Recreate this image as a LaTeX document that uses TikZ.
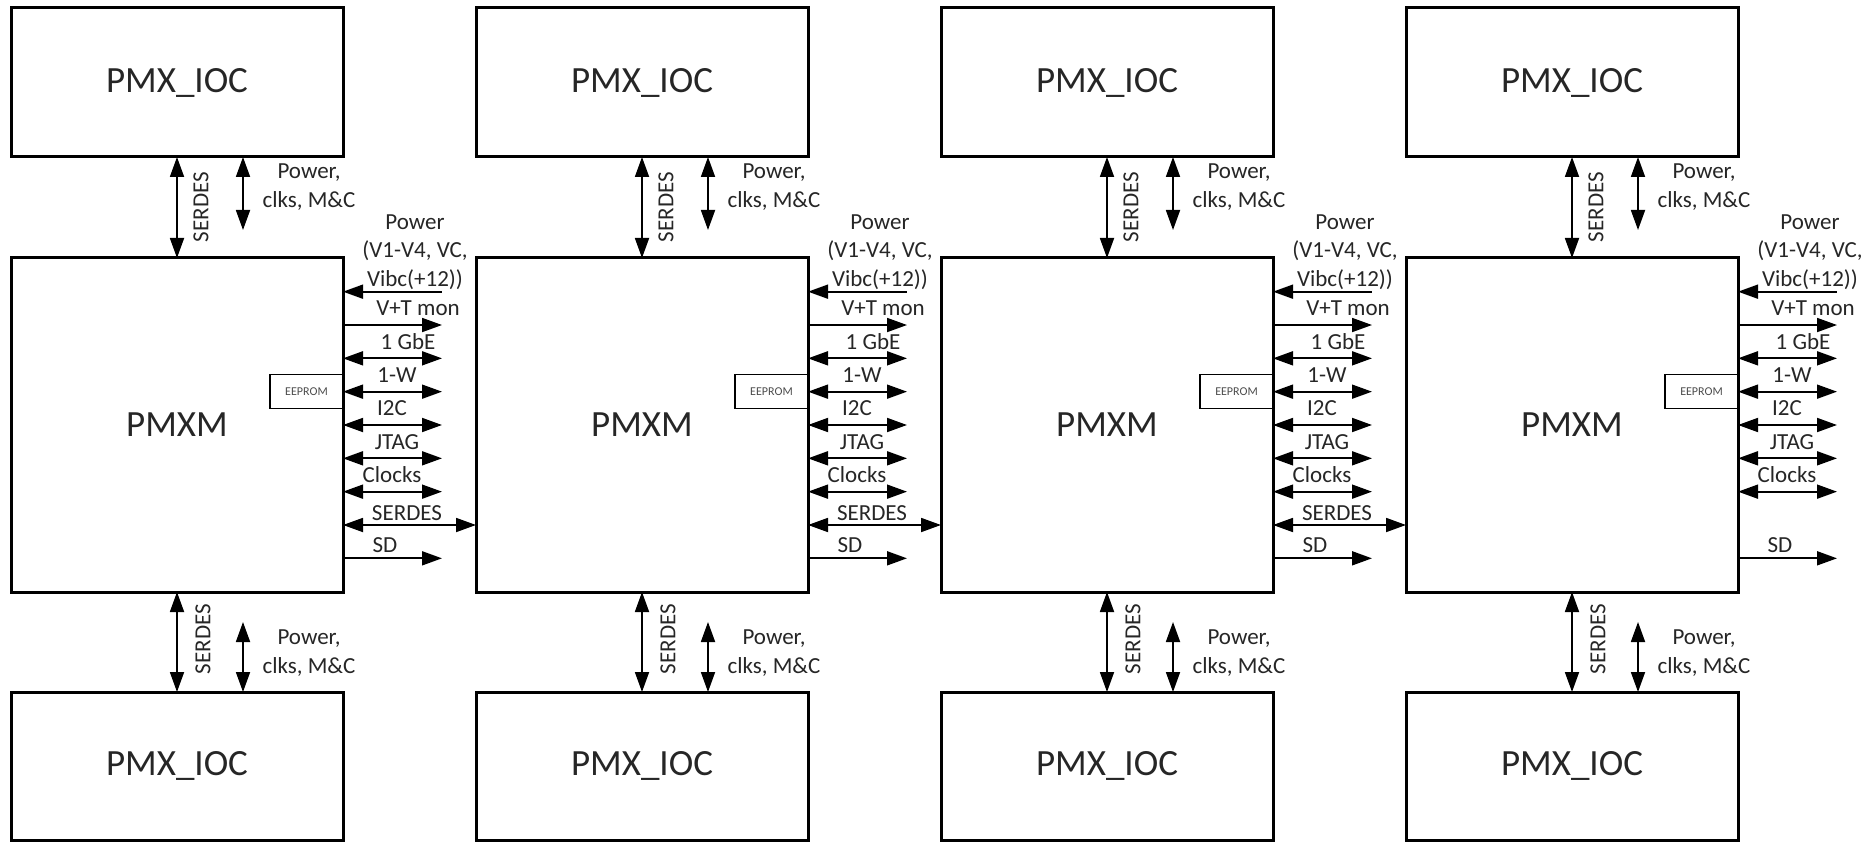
\documentclass[tikz,border=0pt]{standalone}
\usepackage{fontspec}
\setmainfont{Carlito}
\usetikzlibrary{arrows.meta,calc}
\begin{document}
\begin{tikzpicture}[x=1pt,y=-1pt,
  box/.style={draw,line width=3pt,outer sep=0pt,minimum width=332pt,inner sep=0pt,font=\fontsize{37}{44}\selectfont,text=black!85},
  eeprom/.style={draw,line width=1.6pt,outer sep=0pt,minimum width=73pt,minimum height=34pt,inner sep=0pt,font=\fontsize{12}{14}\selectfont,text=black!70},
  lbl/.style={font=\fontsize{23}{28.5}\selectfont,text=black!85,align=center,inner sep=0pt},
  sig/.style={line width=1.8pt},
  biarrow/.style={sig,{Triangle[length=20pt,width=14pt]}-{Triangle[length=20pt,width=14pt]}},
  outarrow/.style={sig,-{Triangle[length=20pt,width=14pt]}},
  inarrow/.style={sig,{Triangle[length=20pt,width=14pt]}-},
]
\useasboundingbox (0,0) rectangle (1864,842);
\foreach \i in {0,1,2,3} {
  \pgfmathsetmacro\L{11+465*\i}
  \node[box,minimum height=149pt] (iocT\i) at (\L+166,82.5) {PMX\_IOC};
  \node[box,minimum height=334pt] (pmxm\i) at (\L+166,425) {PMXM};
  \node[box,minimum height=148pt] (iocB\i) at (\L+166,766) {PMX\_IOC};
  \node[eeprom,anchor=east] (eep\i) at ($(pmxm\i.east)+(0,-33.33)$) {EEPROM};
  % top links
  \draw[biarrow] (iocT\i.south) -- (pmxm\i.north);
  \coordinate (pt\i) at ($(iocT\i.south)+(66,0)$);
  \coordinate (pe\i) at ($(iocT\i.south)+(66,73)$);
  \draw[biarrow] (pt\i) -- (pe\i);
  \node[lbl,rotate=90] (tsl\i) at ($(iocT\i.south)+(24,50)$) {SERDES};
  \node[lbl] (tpl\i) at ($(iocT\i.south)+(132,30)$) {Power,\\clks, M\&C};
  % bottom links
  \draw[biarrow] (pmxm\i.south) -- (iocB\i.north);
  \coordinate (pb\i) at ($(iocB\i.north)+(66,-70)$);
  \coordinate (pc\i) at ($(iocB\i.north)+(66,0)$);
  \draw[biarrow] (pb\i) -- (pc\i);
  \node[lbl,rotate=90] (bsl\i) at ($(iocB\i.north)+(26,-53)$) {SERDES};
  \node[lbl] (bpl\i) at ($(iocB\i.north)+(132,-39)$) {Power,\\clks, M\&C};
  % right side signals
  \foreach \k/\st/\n in {-4/inarrow/a,-3/outarrow/b,-2/biarrow/c,-1/biarrow/d,0/biarrow/e,1/biarrow/f,2/biarrow/g,4/outarrow/h} {
    \coordinate (s\n\i) at ($(pmxm\i.east)+(0,33.33*\k)$);
    \coordinate (e\n\i) at ($(pmxm\i.east)+(99,33.33*\k)$);
    \draw[\st] (s\n\i) -- (e\n\i);
  }
  \node[lbl] (lpw\i) at ($(pmxm\i.east)+(72,-173)$) {Power\\(V1-V4, VC,\\Vibc(+12))};
  \node[lbl] (lvt\i) at ($(pmxm\i.east)+(75,-117)$) {V+T mon};
  \node[lbl] (lgb\i) at ($(pmxm\i.east)+(65,-83)$) {1 GbE};
  \node[lbl] (l1w\i) at ($(pmxm\i.east)+(54,-50)$) {1-W};
  \node[lbl] (li2\i) at ($(pmxm\i.east)+(49,-17)$) {I2C};
  \node[lbl] (ljt\i) at ($(pmxm\i.east)+(54,17)$) {JTAG};
  \node[lbl] (lck\i) at ($(pmxm\i.east)+(49,50)$) {Clocks};
  \node[lbl] (lsd\i) at ($(pmxm\i.east)+(42,120)$) {SD};
}
\foreach \i/\j in {0/1,1/2,2/3} {
  \coordinate (sr\i) at ($(pmxm\i.east)+(0,100)$);
  \draw[biarrow] (sr\i) -- (sr\i -| pmxm\j.west);
  \node[lbl] (lsr\i) at ($(pmxm\i.east)+(64,88)$) {SERDES};
}
\end{tikzpicture}
\end{document}
